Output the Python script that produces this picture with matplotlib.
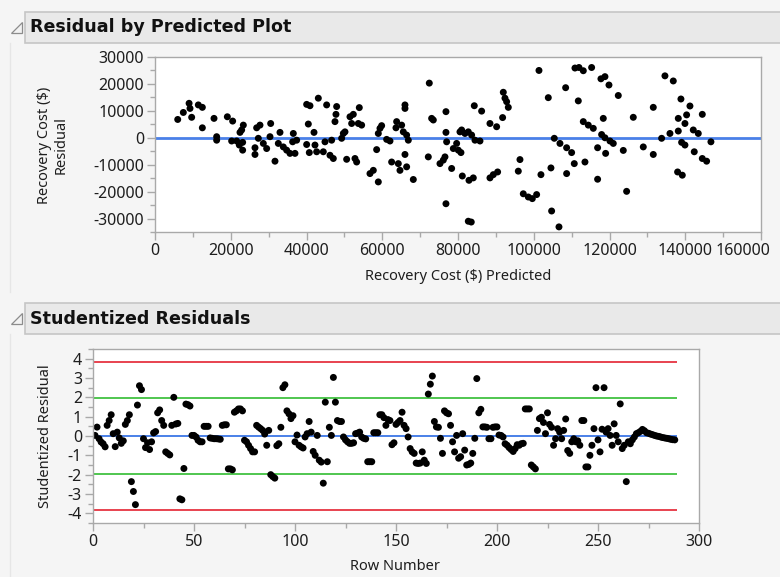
import numpy as np
import matplotlib
matplotlib.use("Agg")
import matplotlib.pyplot as plt
from matplotlib.patches import Rectangle, Polygon
from matplotlib.transforms import ScaledTranslation

plt.rcParams['font.family'] = ['Noto Sans', 'DejaVu Sans']
plt.rcParams['axes.unicode_minus'] = False

# residual by predicted: predicted cost and residual for each row
pred_cost = [6000, 7480, 9000, 9680, 9240, 11440, 12500, 12500, 15580, 16280,
             16280, 19100, 20500, 20240, 21560, 22440, 23320, 22880, 23140, 23140,
             22260, 26400, 26400, 26840, 27720, 27280, 28600, 29480, 30540, 30360,
             31680, 33000, 32560, 33880, 34760, 35640, 36520, 36340, 36960, 37400,
             40040, 40920, 40480, 40040, 41980, 42240, 40740, 43120, 42680, 44440,
             45320, 44880, 46640, 46200, 47080, 47960, 47780, 47520, 49280, 49720,
             50160, 50600, 51480, 51920, 52360, 53240, 53940, 52800, 53680, 54560,
             56760, 57640, 58960, 58520, 59400, 59840, 58960, 61160, 62040, 62480,
             63620, 63800, 64240, 64680, 65120, 65560, 66000, 66000, 66440, 66880,
             66440, 66000, 68200, 72420, 73040, 73480, 72160, 76820, 76820, 77000,
             76820, 75240, 76120, 76560, 78320, 78760,
             79640, 80080, 80780, 80520, 80960, 81840, 82720, 83600, 84480, 85800,
             81140, 82900, 84040, 82720, 83500, 84300, 86240, 88440, 90200, 88440,
             89320, 90460, 91960, 92400, 92840, 93280, 91780, 95920, 96360, 97240,
             98560, 99620, 100760, 101380, 101900, 103840, 104540, 104720, 106660, 105420,
             106920, 108680, 110000, 110700, 108680, 108420, 110880, 111940, 113080, 115280,
             111760, 113080, 114400, 115720, 117920, 118800, 120120, 121000, 113520, 116860,
             116860, 118360, 118980, 117740, 118800, 119860, 122320, 123640, 124520, 126280,
             128920, 131560, 131560, 133760, 135960, 134640, 136840, 138860, 138160, 139920,
             140360, 141240, 138160, 139040, 139920, 142120, 143440, 142380, 144500, 144500,
             145640, 146780, 137980, 139220]
residual = [6800, 9400, 12800, 7600, 10900, 12200, 11300, 3700, 7200, 400,
            -900, 7800, 6200, -1200, -1200, 2000, 4700, 2900, -1700, -4600,
            -2700, -3700, -6200, 3700, 4700, -200, -2100, -4000, 5300, 400,
            -8700, 2000, -2100, -3400, -4600, -5800, 1600, -1500, -5800, -900,
            12400, 11900, 5100, -2500, 2000, -2700, -5500, 14700, -5200, -5200,
            12200, -1500, -900, -6500, -7700, 11600, 8700, 6000, -200, 1600,
            2200, -8000, 7800, 5300, 8700, -9000, 11200, -7700, 5300, 4700,
            -13300, -12100, -16400, -4400, 3500, 4500, 1600, -600, -1200, -9000,
            3700, 6000, -9600, -12100, 4700, 2200, 12200, 10900, 1000, -900,
            -10800, -6200, -15500, 20300, 7200, 6600, -7100, 9700, 2000, -1500,
            -24500, -9600, -8300, -7100, -11400, -4000,
            -2100, -4600, -5500, 2200, 2900, 1600, 2200, 1000, -900, -1200,
            -14200, -15800, -14900, -31000, -31300, 11900, 9900, 5300, 4100, -14900,
            -13700, -12700, 16900, 14700, 13400, 11300, 7500, -12400, -8100, -20800,
            -22000, -22600, -21100, 25000, -13700, 14900, -11200, -27200, -33100, -200,
            -2100, -3700, -5500, -9600, -13300, 18600, 25900, 26100, 24900, 26100,
            13700, 6000, 4700, 3500, 1200, 0, -1200, -2100, -9000, -3700,
            -15400, 7200, -5800, 21900, 22700, 19600, 15700, -4700, -19900, 7600,
            -3400, 11300, -6200, -200, 1600, 23000, 21100, 14400, 7200, 5300,
            8500, 11800, 2500, -1700, -2700, 2900, 1600, -5200, 8700, -7700,
            -8700, -1500, -12700, -13900]

# studentized residual by row number
stud_resid = [0.03, 0.46, -0.14, -0.31, -0.40, -0.56, 0.55, 0.80, 1.10, 0.12,
              -0.55, 0.20, -0.10, -0.38, -0.25, 0.60, 0.80, 1.10, -2.36, -2.87,
              -3.55, 1.60, 2.60, 2.40, -0.14, -0.60, -0.35, -0.70, -0.30, 0.16,
              0.23, 1.20, 1.35, 0.80, 0.55, -0.82, -0.90, -0.98, 0.55, 2.00,
              0.62, 0.65, -3.25, -3.30, -1.68, 1.65, 1.62, 1.55, 0.03, 0.03,
              -0.05, -0.22, -0.30, -0.30, 0.50, 0.50, 0.50, -0.10, -0.12, -0.14,
              -0.14, -0.15, -0.17, 0.55, 0.58, 0.58, -1.70, -1.70, -1.75, 1.23,
              1.30, 1.40, 1.40, 1.30, -0.22, -0.30, -0.48, -0.65, -0.82, -0.82,
              0.55, 0.46, 0.38, 0.29, 0.10, -0.48, 0.29, -2.00, -2.10, -2.18,
              -0.50, -0.40, 0.45, 2.50, 2.65, 1.30, 1.15, 0.90, 1.05, -0.30,
              0.05, -0.48, -0.56, -0.62, -0.05, 0.12, 0.75, 0.20, -0.80, -1.00,
              0.03, -1.25, -1.35, -2.44, 1.75, -1.33, 0.45, 0.03, 3.03, 1.75,
              0.80, 0.75, 0.75, -0.05, -0.20, -0.30, -0.38, -0.38, -0.35, 0.12,
              0.15, 0.20, -0.05, -0.12, -0.15, -1.33, -1.33, -1.33, 0.17, 0.17,
              0.17, 1.10, 1.10, 0.95, 0.55, 0.85, 0.80, -0.45, -0.35, 0.60,
              0.70, 0.80, 1.23, 0.55, 0.38, -0.05, -0.65, -0.82, -0.90, -1.40,
              -1.42, -1.40, -0.82, -1.25, -1.42, 2.17, 2.68, 3.10, 0.75, 0.47,
              0.45, -0.12, -0.90, 1.30, 1.20, 1.15, 0.55, -0.30, -0.82, 0.03,
              -1.15, -1.07, 0.12, -0.73, -1.50, -1.47, -1.40, -0.90, -0.12, 2.97,
              1.20, 1.38, 0.47, 0.47, 0.45, -0.14, -0.14, 0.45, 0.47, 0.47,
              0.05, 0.03, -0.05, -0.40, -0.48, -0.60, -0.70, -0.80, -0.65, -0.45,
              -0.48, -0.40, -0.38, 1.40, 1.40, 1.40, -1.50, -1.60, -1.70, 0.29,
              0.90, 0.97, 0.70, 0.12, 1.20, 0.60, 0.45, -0.48, -0.14, 0.38,
              0.20, -0.14, 0.29, 0.88, -0.75, -0.90, -0.30, -0.14, -0.30, -0.25,
              -0.48, 0.80, 0.80, -1.60, -1.60, -1.00, -0.48, 0.38, 2.50, -0.20,
              -0.82, 0.35, 2.50, 0.20, 0.38, 0.03, -0.48, 0.63, 0.03, -0.30,
              1.66, -0.65, -0.48, -2.36, -0.30, -0.40, -0.20, -0.05, 0.12, 0.17,
              0.24, 0.34, 0.27, 0.17, 0.14, 0.10, 0.07, 0.03, 0.00, -0.02,
              -0.05, -0.08, -0.10, -0.12, -0.14, -0.17, -0.19, -0.20]
row_num = np.arange(1, len(stud_resid) + 1)

# reference limits
t_limit = 1.96
bonf_limit = 3.82

top_xticks = [0, 20000, 40000, 60000, 80000, 100000, 120000, 140000, 160000]
top_yticks = [-30000, -20000, -10000, 0, 10000, 20000, 30000]
bot_xticks = [0, 50, 100, 150, 200, 250, 300]
bot_yticks = [-4, -3, -2, -1, 0, 1, 2, 3, 4]

W, H = 780, 577
bg = '#f5f5f5'
frame = '#a9a9a9'
txt = '#1e1e1e'

fig = plt.figure(figsize=(W / 100, H / 100), dpi=100, facecolor=bg)

# pixel-space layer for outline headers
bgax = fig.add_axes([0, 0, 1, 1], zorder=-1)
bgax.set_xlim(0, W)
bgax.set_ylim(H, 0)
bgax.axis('off')


def header(y0, title):
    bgax.add_patch(Rectangle((25, y0), 770, 31, fc='#e9e9e9', ec='#c6c6c6', lw=1.2))
    bgax.add_patch(Polygon([(11, y0 + 21), (22, y0 + 21), (22, y0 + 10)], closed=True,
                           fc='#f2f2f2', ec='#8c8c8c', lw=0.9))
    bgax.text(30, y0 + 15.5, title, fontsize=12.6, fontweight='bold', color='#111111',
              ha='left', va='center', family=['DejaVu Sans'])


header(12, 'Residual by Predicted Plot')
header(303, 'Studentized Residuals')
bgax.plot([10, 10], [43, 292], color='#e6e6e6', lw=1)
bgax.plot([10, 10], [334, 577], color='#e6e6e6', lw=1)


def style(ax):
    ax.set_facecolor('white')
    for s in ax.spines.values():
        s.set_color(frame)
        s.set_linewidth(1.0)
    ax.tick_params(which='major', length=6, width=1, color=frame, labelsize=11.5,
                   labelcolor=txt, pad=2)
    ax.tick_params(which='minor', length=3.5, width=1, color=frame)


# top: residual vs predicted
ax1 = fig.add_axes([155 / W, 1 - 232 / H, 606 / W, 175 / H])
style(ax1)
ax1.axhline(0, color='#4a80e8', lw=2, zorder=1)
ax1.scatter(pred_cost, residual, s=25, color='black', edgecolors='none', zorder=2)
ax1.set_xlim(0, 160000)
ax1.set_ylim(-35000, 30000)
ax1.set_xticks(top_xticks)
ax1.set_xticklabels([str(t) for t in top_xticks])
ax1.set_yticks(top_yticks)
ax1.set_yticklabels([str(t) for t in top_yticks])
ax1.set_xticks(np.arange(10000, 160000, 20000), minor=True)
ax1.set_yticks(np.arange(-35000, 30000, 10000), minor=True)
# last label pulled inward so it stays on the canvas
last = ax1.get_xticklabels()[-1]
last.set_transform(last.get_transform() + ScaledTranslation(-0.18, 0, fig.dpi_scale_trans))

# bottom: studentized residuals by row
ax2 = fig.add_axes([93 / W, 1 - 523 / H, 606 / W, 174 / H])
style(ax2)
xend = len(stud_resid) + 1
ax2.hlines([bonf_limit, -bonf_limit], 0, xend, color='#e8424f', lw=1.4, zorder=1)
ax2.hlines([t_limit, -t_limit], 0, xend, color='#4fc64f', lw=1.4, zorder=1)
ax2.hlines(0, 0, xend, color='#4a80e8', lw=1.4, zorder=1)
ax2.scatter(row_num, stud_resid, s=25, color='black', edgecolors='none', zorder=2)
ax2.set_xlim(0, 300)
ax2.set_ylim(-4.5, 4.5)
ax2.set_xticks(bot_xticks)
ax2.set_xticklabels([str(t) for t in bot_xticks])
ax2.set_yticks(bot_yticks)
ax2.set_yticklabels([str(t) for t in bot_yticks])
ax2.set_xticks(np.arange(25, 300, 50), minor=True)
ax2.set_yticks(np.arange(-4.5, 4.6, 0.5), minor=True)

# axis titles
fig.text(458 / W, 1 - 276 / H, 'Recovery Cost ($) Predicted', fontsize=10.5,
         color=txt, ha='center', va='center')
fig.text(53 / W, 1 - 145 / H, 'Recovery Cost ($)\nResidual', fontsize=10.5,
         color=txt, ha='center', va='center', rotation=90, linespacing=1.1)
fig.text(395 / W, 1 - 566 / H, 'Row Number', fontsize=10.5, color=txt,
         ha='center', va='center')
fig.text(46 / W, 1 - 436 / H, 'Studentized Residual', fontsize=10.5, color=txt,
         ha='center', va='center', rotation=90)

fig.savefig('out.png', dpi=100, facecolor=bg)
